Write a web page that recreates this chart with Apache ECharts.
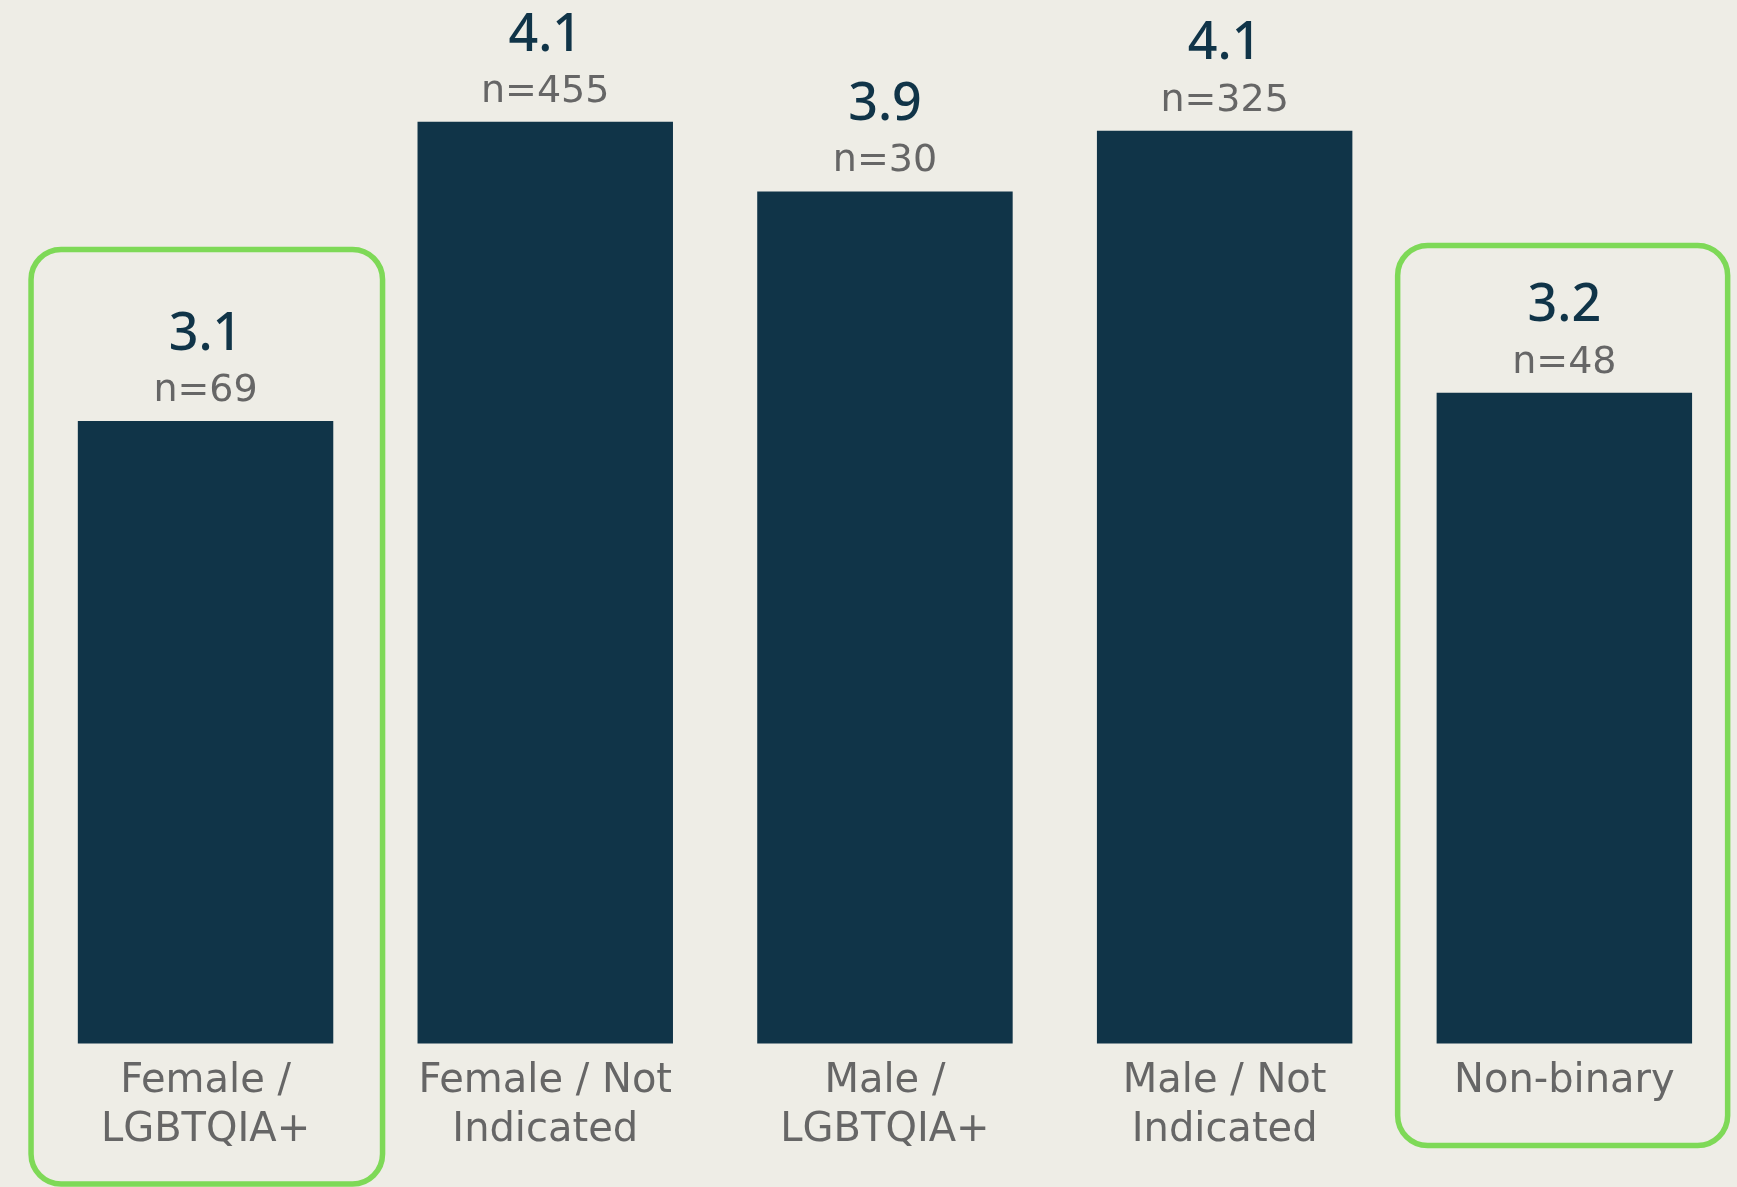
<!DOCTYPE html>
<html>
<head>
<meta charset="utf-8">
<script src="https://cdn.jsdelivr.net/npm/echarts@6/dist/echarts.min.js"></script>
<style>
html,body{margin:0;padding:0;background:#eeede6;}
#c{width:1737px;height:1187px;}
</style>
</head>
<body>
<div id="c"></div>
<script>
const categories = ['Female /\nLGBTQIA+', 'Female / Not\nIndicated', 'Male /\nLGBTQIA+', 'Male / Not\nIndicated', 'Non-binary'];
const scores = [3.1, 4.11, 3.875, 4.08, 3.196];
const counts = [69, 455, 30, 325, 48];
const highlighted = [0, 4];

const FONT = '"DejaVu Sans", "Noto Sans", sans-serif';
const VFONT = '"Noto Sans", "DejaVu Sans", sans-serif';
const chart = echarts.init(document.getElementById('c'), null, {renderer: 'canvas'});

chart.setOption({
  backgroundColor: '#eeede6',
  animation: false,
  grid: {left: 35.7, right: 2.8, top: 6.2, bottom: 143.6, containLabel: false},
  xAxis: {
    type: 'category',
    data: categories,
    axisLine: {show: false},
    axisTick: {show: false},
    axisLabel: {
      color: '#666666', fontFamily: FONT, fontSize: 40, lineHeight: 49, margin: 14,
      interval: 0
    }
  },
  yAxis: {
    type: 'value', min: 1, max: 4.5,
    show: false, splitLine: {show: false}
  },
  series: [{
    type: 'bar',
    data: scores,
    barCategoryGap: '24.8%',
    itemStyle: {color: '#103448'},
    label: {
      show: true,
      position: 'top',
      distance: 4,
      fontFamily: FONT,
      formatter: p => '{v|' + p.value.toFixed(1) + '}\n{n|n=' + counts[p.dataIndex] + '}',
      rich: {
        v: {fontSize: 52, fontWeight: 500, color: '#103448', lineHeight: 60, fontFamily: VFONT, align: 'center'},
        n: {fontSize: 38, color: '#666666', lineHeight: 52, fontFamily: FONT, align: 'center'}
      }
    }
  }]
});

// green highlight frames around selected categories
const frameSpec = {
  0: {leftPad: 174.5, rightPad: 177, top: 249.5, bottom: 1184},
  4: {leftPad: 166.7, rightPad: 163.3, top: 245.5, bottom: 1145.5}
};
const graphics = highlighted.map(i => {
  const cx = chart.convertToPixel({xAxisIndex: 0}, i);
  const s = frameSpec[i];
  return {
    type: 'rect',
    shape: {x: cx - s.leftPad, y: s.top, width: s.leftPad + s.rightPad, height: s.bottom - s.top, r: 30},
    style: {fill: 'none', stroke: '#7ed957', lineWidth: 5.5},
    z: 10
  };
});
chart.setOption({graphic: graphics});
</script>
</body>
</html>
